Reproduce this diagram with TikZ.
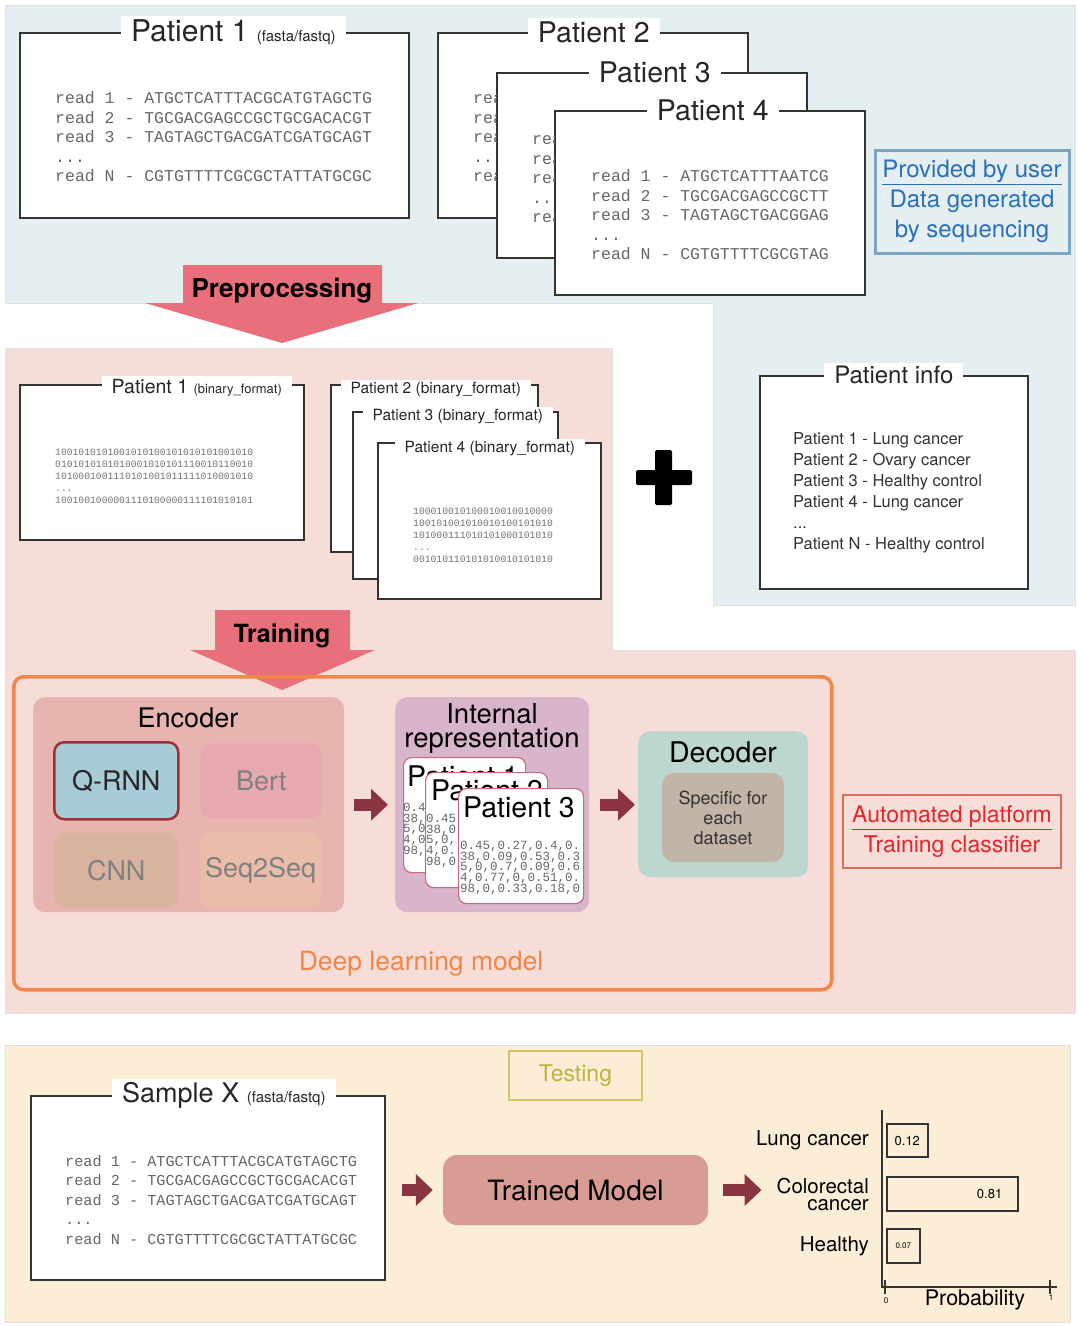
\documentclass[tikz,border=0pt]{standalone}
\usepackage{fontspec}
\setmainfont{TeX Gyre Heros}
\setmonofont{Liberation Mono}
\usetikzlibrary{positioning,arrows.meta}

\definecolor{panelblue}{HTML}{E5EFF2}
\definecolor{panelpink}{HTML}{F6DDD7}
\definecolor{panelbeige}{HTML}{FBEDD6}
\definecolor{arrred}{HTML}{E9707A}
\definecolor{dlmorange}{HTML}{F0874A}
\definecolor{encfill}{HTML}{E8B4B0}
\definecolor{qrnnfill}{HTML}{A8CCD6}
\definecolor{qrnnline}{HTML}{A02F3C}
\definecolor{bertfill}{HTML}{E8A8B0}
\definecolor{cnnfill}{HTML}{D8B4A0}
\definecolor{seqfill}{HTML}{E9BDAA}
\definecolor{intfill}{HTML}{D9B5CB}
\definecolor{cardline}{HTML}{C86A78}
\definecolor{decfill}{HTML}{BCD7CF}
\definecolor{specfill}{HTML}{C3B4A8}
\definecolor{blkred}{HTML}{8A3440}
\definecolor{autoline}{HTML}{D47055}
\definecolor{autotext}{HTML}{E3262E}
\definecolor{userline}{HTML}{7AA5C4}
\definecolor{usertext}{HTML}{2A70B8}
\definecolor{testline}{HTML}{D8C466}
\definecolor{testtext}{HTML}{B5B83C}
\definecolor{tmfill}{HTML}{D89C95}
\definecolor{boxline}{HTML}{333333}
\definecolor{readgray}{HTML}{666666}

\newcommand{\fsz}[2]{\fontsize{#1pt}{#2pt}\selectfont}

\begin{document}
\begin{tikzpicture}[x=1pt,y=-1pt,
    every node/.style={inner sep=0pt},
    panel/.style={draw=black!12,line width=0.8pt},
    pbox/.style={draw=boxline,fill=white,line width=1.6pt,anchor=north west},
    ptitle/.style={fill=white,inner xsep=10pt,inner ysep=3pt,text=black!85},
    reads/.style={font=\ttfamily\fsz{16.5}{19.5},align=left,anchor=west,text=readgray},
    bits/.style={font=\ttfamily\fsz{9.7}{12},align=left,anchor=west,text=black!55},
    nums/.style={font=\ttfamily\fsz{12.5}{10.7},align=left,anchor=north west,text=black!60},
    bigtxt/.style={font=\bfseries\fsz{26}{28}},
    grp/.style={rounded corners=12pt,anchor=north west},
    enc/.style={rounded corners=10pt,minimum height=75pt,font=\fsz{27}{29},text=black!50},
    card/.style={draw=cardline,fill=white,line width=1.2pt,rounded corners=8pt,anchor=north west,minimum height=115pt},
    cardttl/.style={font=\fsz{28.5}{30},anchor=base west},
    blk/.style={draw=blkred,line width=12pt,-{Triangle[length=17pt,width=31pt]}},
    bar/.style={draw=boxline,line width=1.6pt,anchor=west,minimum height=33pt},
    lab/.style={font=\fsz{20.5}{17},align=right},
]
% TOP panel: raw sequencing reads
\fill[panelblue,panel] (5,5) -- (1075,5) -- (1075,605) -- (713,605) -- (713,303) -- (5,303) -- cycle;
\fill[panelpink,panel] (5,348) -- (612,348) -- (612,650) -- (1075,650) -- (1075,1013) -- (5,1013) -- cycle;
\fill[panelbeige,panel] (5,1045) rectangle (1070,1322);

\node[pbox,minimum width=389pt,minimum height=185pt] (p1) at (19,32) {};
\node[ptitle,font=\fsz{30}{32}] (p1t) at ([xshift=19pt]p1.north) {Patient 1 {\fsz{15}{18}(fasta/fastq)}};
\node[reads] (p1r) at (55,137) {read 1 - ATGCTCATTTACGCATGTAGCTG\\read 2 - TGCGACGAGCCGCTGCGACACGT\\read 3 - TAGTAGCTGACGATCGATGCAGT\\...\\read N - CGTGTTTTCGCGCTATTATGCGC};

\node[pbox,minimum width=310pt,minimum height=185pt] (p2) at (437,32) {};
\node[ptitle,font=\fsz{28.5}{30}] (p2t) at ([xshift=1pt]p2.north) {Patient 2};
\node[pbox,minimum width=310pt,minimum height=185pt] (p3) at (496,72) {};
\begin{scope}
  \clip (p2.north west) rectangle (p3.west |- p2.south);
  \node[reads] (p2r) at (473,137) {read\\read\\read\\..\\read};
\end{scope}
\node[ptitle,font=\fsz{28.5}{30}] (p3t) at ([xshift=3pt]p3.north) {Patient 3};
\node[pbox,minimum width=310pt,minimum height=184pt] (p4) at (554,110) {};
\begin{scope}
  \clip (p3.north west) rectangle (p4.west |- p3.south);
  \node[reads] (p3r) at (532,178) {read\\read\\read\\..\\read};
\end{scope}
\node[ptitle,font=\fsz{28.5}{30}] (p4t) at ([xshift=3pt]p4.north) {Patient 4};
\node[reads] (p4r) at (591,215) {read 1 - ATGCTCATTTAATCG\\read 2 - TGCGACGAGCCGCTT\\read 3 - TAGTAGCTGACGGAG\\...\\read N - CGTGTTTTCGCGTAG};

\node[draw=userline,line width=3pt,fill=panelblue,minimum width=194pt,minimum height=103pt,
      align=center,text=usertext,font=\fsz{24}{30}] (user) at (972,201.5)
      {\underline{Provided by user}\\Data generated\\by sequencing};

\fill[arrred] (183,265) -- (382,265) -- (382,303) -- (418,303) -- (282,343) -- (145,303) -- (183,303) -- cycle;
\node[bigtxt] (prep) at (282,291) {Preprocessing};

% MIDDLE panel: binary format + labels
\node[pbox,minimum width=284pt,minimum height=155pt] (b1) at (19,384) {};
\node[ptitle,font=\fsz{19.5}{22}] (b1t) at ([xshift=35pt,yshift=-4pt]b1.north) {Patient 1 {\fsz{13}{15}(binary\_format)}};
\node[bits] (b1r) at (55,476) {1001010101001010100101010101001010\\0101010101010001010101110010110010\\1010001001110101001011111010001010\\...\\1001001000001110100000111101010101};

\node[pbox,minimum width=207pt,minimum height=167pt] (b2) at (330,384) {};
\node[ptitle,font=\fsz{15.5}{18}] (b2t) at ([xshift=1.5pt,yshift=-6pt]b2.north) {Patient 2 (binary\_format)};
\node[pbox,minimum width=205pt,minimum height=167pt] (b3) at (352,411) {};
\node[ptitle,font=\fsz{15.5}{18}] (b3t) at ([xshift=2.5pt,yshift=-6pt]b3.north) {Patient 3 (binary\_format)};
\node[pbox,minimum width=223pt,minimum height=156pt] (b4) at (377,442) {};
\node[ptitle,font=\fsz{15.5}{18}] (b4t) at ([xshift=0.5pt,yshift=-7pt]b4.north) {Patient 4 (binary\_format)};
\node[bits] (b4r) at (413,535) {100010010100010010010000\\100101001010010100101010\\101000111010101000101010\\...\\001010110101010010101010};

\fill[black,rounded corners=1.5pt] (655,450) rectangle (672,505);
\fill[black,rounded corners=1.5pt] (636,470) rectangle (692,485);

\node[pbox,minimum width=268pt,minimum height=213pt] (info) at (759,375) {};
\node[ptitle,font=\fsz{24}{26}] (infot) at (info.north) {Patient info};
\node[anchor=west,align=left,font=\fsz{16.5}{21},text=black!80] (infor) at (793,493)
      {Patient 1 - Lung cancer\\Patient 2 - Ovary cancer\\Patient 3 - Healthy control\\Patient 4 - Lung cancer\\...\\Patient N - Healthy control};

\fill[arrred] (215,610) -- (350,610) -- (350,650) -- (375,650) -- (282,690) -- (190,650) -- (215,650) -- cycle;
\node[bigtxt,font=\bfseries\fsz{25}{27}] (train) at (282,636) {Training};

% deep learning model
\node[draw=dlmorange,line width=3.5pt,rounded corners=10pt,anchor=north west,minimum width=818pt,minimum height=313pt] (dlm) at (12,675) {};
\node[text=dlmorange,font=\fsz{26.5}{28}] (dlmt) at (421,964) {Deep learning model};

\node[grp,fill=encfill,minimum width=311pt,minimum height=215pt] (encoder) at (33,697) {};
\node[font=\fsz{27}{29}] (enct) at (188,718) {Encoder};
\node[enc,fill=qrnnfill,draw=qrnnline,line width=2.5pt,minimum width=124pt,minimum height=77pt,text=black!85,anchor=north west] (qrnn) at (53,741) {Q-RNN};
\node[enc,fill=bertfill,minimum width=121pt,right=21pt of qrnn] (bert) {Bert};
\node[enc,fill=cnnfill,minimum width=123pt,below=12pt of qrnn] (cnn) {CNN};
\node[enc,fill=seqfill,minimum width=121pt,right=22pt of cnn] (seqs) {Seq2Seq};

\node[grp,fill=intfill,minimum width=194pt,minimum height=215pt] (intrep) at (395,697) {};
\node[align=center,font=\fsz{27.5}{24}] (intt) at (492,728) {Internal\\representation};

\node[card,minimum width=122pt] (c1) at (403,757) {};
\begin{scope}
  \clip[rounded corners=8pt] (c1.north west) rectangle (c1.south east);
  \node[cardttl] (c1t) at (407,786) {Patient 1};
  \node[nums] (c1n) at (403,803) {0.4\\38,\\5,0\\4,0\\98,};
\end{scope}
\node[card,minimum width=122pt] (c2) at (425,772) {};
\begin{scope}
  \clip[rounded corners=8pt] (c2.north west) rectangle (c2.south east);
  \node[cardttl] (c2t) at (431,800) {Patient 2};
  \node[nums] (c2n) at (426,814) {0.45\\38,0\\5,0,\\4,0.\\98,0};
\end{scope}
\node[card,minimum width=125pt] (c3) at (458,788) {};
\begin{scope}
  \clip[rounded corners=8pt] (c3.north west) rectangle (c3.south east);
  \node[cardttl] (c3t) at (463,817) {Patient 3};
  \node[nums] (c3n) at (460,841) {0.45,0.27,0.4,0.\\38,0.09,0.53,0.3\\5,0,0.7,0.09,0.6\\4,0.77,0,0.51,0.\\98,0,0.33,0.18,0};
\end{scope}

\node[grp,fill=decfill,minimum width=170pt,minimum height=146pt] (dec) at (638,731) {};
\node[font=\fsz{28.5}{30}] (dect) at (723,752) {Decoder};
\node[grp,fill=specfill,minimum width=122pt,minimum height=89pt,align=center,anchor=center,
      font=\fsz{18}{20},text=black!80] (spec) at (723,817.5) {Specific for\\each\\dataset};

\draw[blk,shorten <=10pt,shorten >=7pt] (encoder.east) -- (intrep.west);
\draw[blk,shorten <=11pt,shorten >=3pt] (intrep.east) -- (intrep.east -| dec.west);

\node[draw=autoline,line width=2.5pt,minimum width=218pt,minimum height=73pt,align=center,
      text=autotext,font=\fsz{23}{30}] (auto) at (952,831.5)
      {\underline{Automated platform}\\Training classifier};

% BOTTOM panel: testing
\node[draw=testline,line width=2pt,minimum width=133pt,minimum height=49pt,
      text=testtext,font=\fsz{23}{25}] (test) at (575.5,1075.5) {Testing};

\node[pbox,minimum width=354pt,minimum height=184pt] (sx) at (30,1095) {};
\node[ptitle,font=\fsz{27}{30}] (sxt) at ([xshift=16pt]sx.north) {Sample X {\fsz{15}{18}(fasta/fastq)}};
\node[reads,font=\ttfamily\fsz{15.2}{19.5}] (sxr) at (65,1200) {read 1 - ATGCTCATTTACGCATGTAGCTG\\read 2 - TGCGACGAGCCGCTGCGACACGT\\read 3 - TAGTAGCTGACGATCGATGCAGT\\...\\read N - CGTGTTTTCGCGCTATTATGCGC};

\node[fill=tmfill,rounded corners=14pt,minimum width=265pt,minimum height=70pt,font=\fsz{28}{30}] (tm) at (575.5,1190) {Trained Model};

% probability chart
\node[bar,minimum width=41pt] (bar1) at (886,1140.5) {\fsz{13}{15}0.12};
\node[bar,minimum width=131pt,minimum height=34pt] (bar2) at (886,1194) {};
\node[font=\fsz{13}{15}] (bar2t) at ([xshift=-29pt]bar2.east) {0.81};
\node[bar,minimum width=33pt,minimum height=34pt] (bar3) at (886,1246) {\fsz{8}{10}0.07};
\node[lab,left=17pt of bar1] (lung) {Lung cancer};
\node[lab,left=17pt of bar2] (crc) {Colorectal\\cancer};
\node[lab,left=17pt of bar3] (hlt) {Healthy};

\coordinate (origin) at (882,1287);
\draw[boxline,line width=2pt] (882,1110) -- (origin) -- (1057,1287);
\draw[boxline,line width=1.5pt] (885,1280) -- (885,1294);
\draw[boxline,line width=1.5pt] (1050,1280) -- (1050,1294);
\node[font=\fsz{8}{10}] (zero) at (886,1301) {0};
\node[font=\fsz{8}{10}] (one) at (1051,1298) {1};
\node[font=\fsz{21.5}{23}] (prob) at (975,1300) {Probability};

\draw[blk,shorten <=16pt,shorten >=10pt] (sx.east |- tm.west) -- (tm.west);
\draw[blk,shorten <=15pt,shorten >=15pt] (tm.east) -- (tm.east -| crc.west);

\useasboundingbox (0,0) rectangle (1077,1326);
\end{tikzpicture}
\end{document}
